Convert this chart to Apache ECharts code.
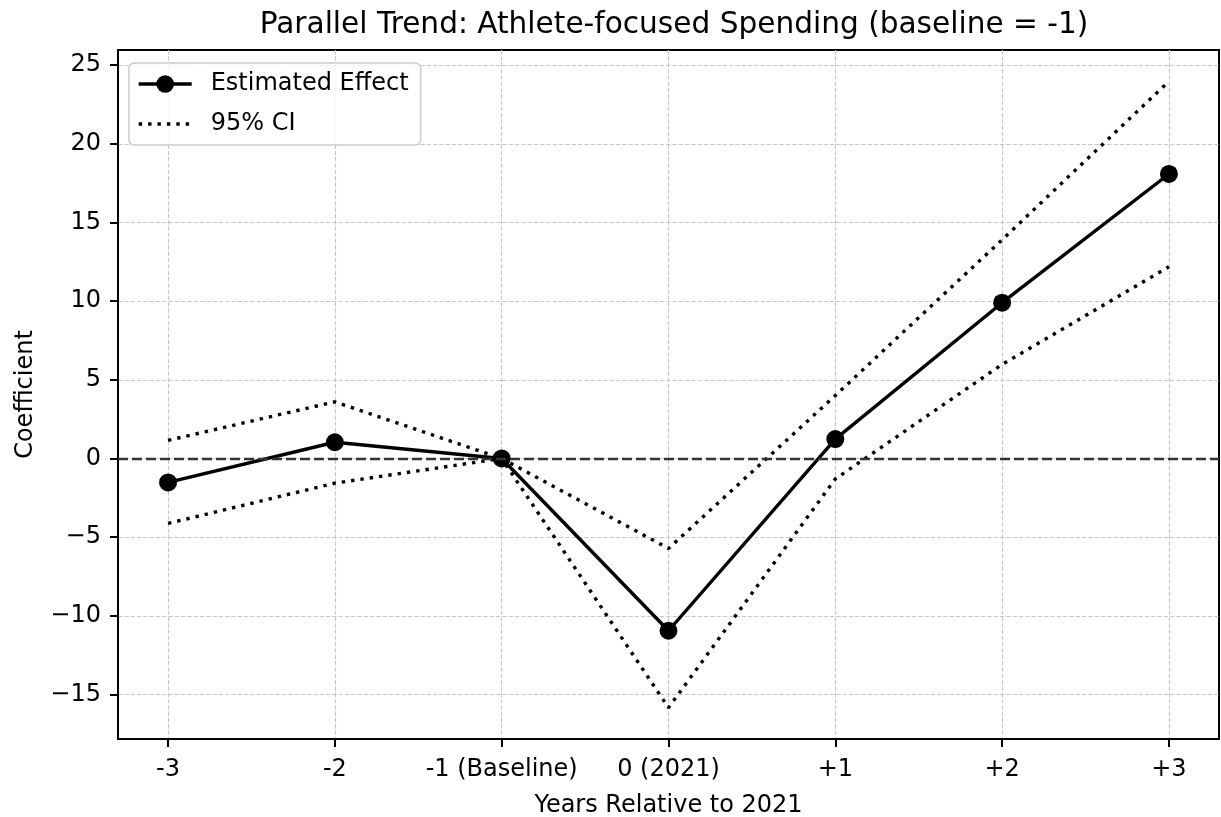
<!DOCTYPE html>
<html>
<head>
<meta charset="utf-8">
<script src="https://cdn.jsdelivr.net/npm/echarts@6/dist/echarts.min.js"></script>
<style>
  html, body { margin: 0; padding: 0; background: #fff; }
  #chart { width: 1221px; height: 817px; }
</style>
</head>
<body>
<div id="chart"></div>
<script>
// ---- data ----
const categories = ['-3', '-2', '-1 (Baseline)', '0 (2021)', '+1', '+2', '+3'];
const estimate   = [-1.52, 1.03, 0, -10.95, 1.23, 9.9, 18.08];
const ciUpper    = [1.15, 3.6, 0, -5.72, 4.0, 13.9, 23.97];
const ciLower    = [-4.13, -1.57, 0, -15.84, -1.3, 5.98, 12.18];
const yTicks     = [-15, -10, -5, 0, 5, 10, 15, 20, 25];

const FONT = 'DejaVu Sans';
const toPairs = arr => arr.map((v, i) => [i, v]);
const fmtY = v => (v < 0 ? '\u2212' + Math.abs(v) : String(v));

const chart = echarts.init(document.getElementById('chart'), null, { renderer: 'canvas' });

const option = {
  backgroundColor: '#ffffff',
  animation: false,
  textStyle: { fontFamily: FONT, color: '#000' },
  title: {
    text: 'Parallel Trend: Athlete-focused Spending (baseline = -1)',
    left: 669,
    textAlign: 'center',
    top: 5,
    textStyle: { fontFamily: FONT, fontSize: 29.6, fontWeight: 'normal', color: '#000' }
  },
  legend: {
    orient: 'vertical',
    left: 129,
    top: 63,
    padding: [9, 12, 9, 8],
    itemGap: 16,
    itemWidth: 53,
    itemHeight: 22,
    backgroundColor: 'rgba(255,255,255,0.8)',
    borderColor: '#cccccc',
    borderWidth: 1.5,
    borderRadius: 5,
    lineStyle: { width: 3.4 },
    data: [
      { name: 'Estimated Effect' },
      { name: '95% CI', itemStyle: { color: 'rgba(0,0,0,0)', opacity: 0 } }
    ],
    textStyle: { fontFamily: FONT, fontSize: 24, color: '#000', padding: [0, 0, 0, 14] }
  },
  grid: {
    left: 118, right: 2, top: 50, bottom: 78,
    show: true,
    borderColor: '#000',
    borderWidth: 2,
    containLabel: false,
    outerBoundsMode: 'none'
  },
  xAxis: {
    type: 'value',
    min: -0.3,
    max: 6.3,
    splitNumber: 6,
    name: 'Years Relative to 2021',
    nameLocation: 'middle',
    nameGap: 55,
    nameTextStyle: { fontFamily: FONT, fontSize: 24, color: '#000' },
    axisLine: { show: true, onZero: false, lineStyle: { color: '#000', width: 2 } },
    axisTick: {
      show: true, length: 8, inside: false,
      lineStyle: { color: '#000', width: 2 },
      customValues: [0, 1, 2, 3, 4, 5, 6]
    },
    axisLabel: {
      show: true, margin: 19,
      fontFamily: FONT, fontSize: 24, color: '#000',
      customValues: [0, 1, 2, 3, 4, 5, 6],
      formatter: v => categories[Math.round(v)] ?? ''
    },
    splitLine: {
      show: true,
      lineStyle: { color: '#c8c8c8', width: 1.2, type: [4.4, 1.9] }
    }
  },
  yAxis: {
    type: 'value',
    min: -17.83,
    max: 25.96,
    splitNumber: 9,
    name: 'Coefficient',
    nameLocation: 'middle',
    nameGap: 80,
    nameRotate: 90,
    nameTextStyle: { fontFamily: FONT, fontSize: 24, color: '#000' },
    axisLine: { show: true, onZero: false, lineStyle: { color: '#000', width: 2 } },
    axisTick: {
      show: true, length: 8, inside: false,
      lineStyle: { color: '#000', width: 2 },
      customValues: yTicks
    },
    axisLabel: {
      show: true, margin: 17,
      fontFamily: FONT, fontSize: 24, color: '#000',
      customValues: yTicks,
      formatter: v => fmtY(v)
    },
    splitLine: {
      show: true,
      lineStyle: { color: '#c8c8c8', width: 1.2, type: [4.4, 1.9] }
    }
  },
  series: [
    {
      name: '95% CI',
      type: 'line',
      data: toPairs(ciUpper),
      symbol: 'none',
      lineStyle: { color: '#000', width: 3.4, type: [3.4, 6], cap: 'butt' },
      itemStyle: { color: '#000' },
      z: 3,
      markLine: {
        silent: true,
        symbol: 'none',
        label: { show: false },
        lineStyle: { color: '#333', width: 2.4, type: [10, 4] },
        data: [{ yAxis: 0 }]
      }
    },
    {
      name: '95% CI',
      type: 'line',
      data: toPairs(ciLower),
      symbol: 'none',
      lineStyle: { color: '#000', width: 3.4, type: [3.4, 6], cap: 'butt' },
      itemStyle: { color: '#000' },
      z: 3
    },
    {
      name: 'Estimated Effect',
      type: 'line',
      data: toPairs(estimate),
      symbol: 'circle',
      symbolSize: 18,
      showSymbol: true,
      lineStyle: { color: '#000', width: 3.4 },
      itemStyle: { color: '#000' },
      z: 4
    }
  ]
};

chart.setOption(option);
</script>
</body>
</html>
